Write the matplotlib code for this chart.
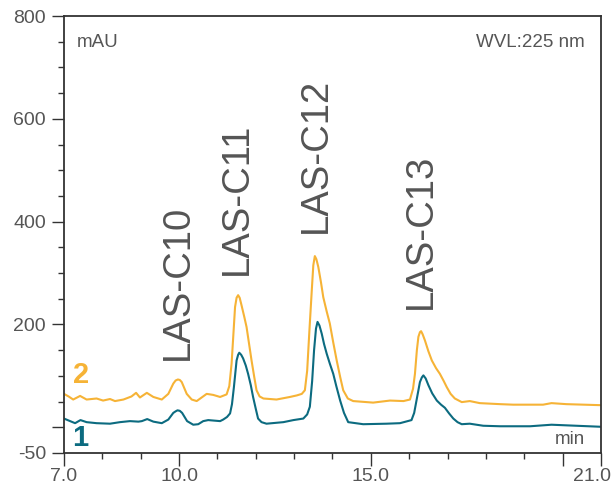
import matplotlib
matplotlib.use("Agg")
import matplotlib.pyplot as plt
import matplotlib.transforms as mtransforms
from matplotlib.ticker import MultipleLocator, FixedLocator

# trace 2 (orange)
t2 = [7.00, 7.12, 7.24, 7.42, 7.59, 7.85, 8.02, 8.20, 8.33, 8.55, 8.76, 8.88, 8.98,
      9.16, 9.33, 9.55, 9.72, 9.85, 9.91, 9.97, 10.02, 10.07, 10.20, 10.33, 10.46, 10.59,
      10.72, 10.89, 11.07, 11.24, 11.31, 11.37, 11.42, 11.46, 11.50, 11.54, 11.58, 11.63,
      11.70, 11.76, 11.83, 11.89, 11.96, 12.02, 12.10, 12.20, 12.54, 12.89, 13.07, 13.20,
      13.28, 13.34, 13.40, 13.46, 13.50, 13.54, 13.58, 13.63, 13.70, 13.76, 13.85,
      13.93, 14.02, 14.11, 14.20, 14.28, 14.40, 14.54, 15.06, 15.50, 15.85, 16.02,
      16.10, 16.15, 16.20, 16.24, 16.28, 16.31, 16.35, 16.41, 16.50, 16.59, 16.70,
      16.80, 16.90, 16.98, 17.08, 17.19, 17.37, 17.58, 17.84, 18.37, 18.71, 19.49,
      19.71, 20.10, 21.00]
v2 = [65, 60, 54, 61, 54, 56, 52, 55, 51, 54, 60, 67, 58,
      67, 59, 54, 65, 85, 91, 93, 92, 88, 65, 54, 51, 58,
      65, 63, 59, 64, 80, 124, 185, 234, 252, 257, 252, 237,
      215, 195, 160, 130, 98, 72, 60, 56, 54, 59, 62, 65,
      72, 110, 190, 266, 315, 333, 327, 312, 282, 253, 225,
      202, 165, 130, 98, 72, 56, 51, 48, 52, 51, 54,
      75, 104, 150, 176, 185, 187, 181, 169, 148, 130, 115,
      104, 90, 78, 65, 56, 49, 51, 47, 45, 44, 44,
      47, 45, 43]

# trace 1 (teal)
t1 = [7.00, 7.16, 7.29, 7.43, 7.59, 7.85, 8.20, 8.46, 8.72, 8.94, 9.03, 9.17,
      9.33, 9.55, 9.72, 9.85, 9.91, 9.96, 10.02, 10.08, 10.21, 10.37, 10.50, 10.63,
      10.76, 11.07, 11.15, 11.25, 11.33, 11.38, 11.43, 11.50, 11.54, 11.57, 11.62,
      11.67, 11.74, 11.80, 11.87, 11.93, 12.00, 12.06, 12.15, 12.28, 12.72, 12.98,
      13.24, 13.34, 13.41, 13.47, 13.52, 13.57, 13.61, 13.66, 13.72, 13.78, 13.85,
      13.93, 14.02, 14.10, 14.20, 14.30, 14.41, 14.80, 15.41, 15.76, 16.06, 16.13,
      16.19, 16.24, 16.28, 16.33, 16.37, 16.43, 16.50, 16.60, 16.72, 16.83, 16.93,
      17.04, 17.15, 17.26, 17.37, 17.58, 17.93, 18.37, 19.15, 19.71, 21.00]
v1 = [17, 12, 8, 14, 10, 8, 7, 10, 12, 11, 12, 16,
      11, 8, 15, 28, 31, 33, 32, 28, 12, 5, 6, 12,
      14, 12, 15, 20, 27, 45, 78, 130, 141, 145, 141,
      134, 120, 104, 82, 59, 36, 17, 10, 7, 10, 14,
      17, 25, 40, 90, 150, 192, 205, 198, 182, 162, 143,
      124, 104, 80, 52, 28, 10, 6, 7, 8, 14, 28,
      52, 72, 88, 97, 101, 95, 82, 66, 52, 44, 38,
      27, 17, 10, 6, 7, 3, 2, 2, 5, 1]

peak_names = ["LAS-C10", "LAS-C11", "LAS-C12", "LAS-C13"]
peak_label_t = [9.97, 11.50, 13.57, 16.30]
peak_label_v = [130, 296, 377, 231]

x_major = [7, 10, 15, 20, 21]
x_labels = ["7.0", "10.0", "15.0", "", "21.0"]
y_major = [-50, 0, 200, 400, 600, 800]
y_labels = ["-50", "", "200", "400", "600", "800"]

orange = "#F6B336"
teal = "#0C6B80"
grey = "#555555"

plt.rcParams["font.family"] = ["Liberation Sans", "DejaVu Sans"]

fig = plt.figure(figsize=(6.14, 4.91), dpi=100)
ax = fig.add_axes([0.1042, 0.0774, 0.8746, 0.89])

ax.plot(t2, v2, color=orange, lw=1.5, solid_joinstyle="round")
ax.plot(t1, v1, color=teal, lw=1.5, solid_joinstyle="round")

for name, tx, ty in zip(peak_names, peak_label_t, peak_label_v):
    ax.text(tx, ty, name, rotation=90, ha="center", va="bottom",
            fontsize=27.5, color=grey)

ax.text(0.024, 0.94, "mAU", transform=ax.transAxes, fontsize=13.5,
        color=grey, va="center", ha="left")
ax.text(0.97, 0.94, "WVL:225 nm", transform=ax.transAxes, fontsize=13.5,
        color=grey, va="center", ha="right")
ax.text(0.97, 0.012, "min", transform=ax.transAxes, fontsize=13.5,
        color=grey, va="bottom", ha="right")
ax.text(0.032, 0.178, "2", transform=ax.transAxes, fontsize=21,
        fontweight="bold", color=orange, va="center", ha="center")
ax.text(0.030, 0.034, "1", transform=ax.transAxes, fontsize=21,
        fontweight="bold", color=teal, va="center", ha="center")

ax.set_xlim(7, 21)
ax.set_ylim(-50, 800)

ax.xaxis.set_major_locator(FixedLocator(x_major))
ax.set_xticklabels(x_labels)
ax.yaxis.set_major_locator(FixedLocator(y_major))
ax.set_yticklabels(y_labels)
ax.xaxis.set_minor_locator(MultipleLocator(1))
ax.yaxis.set_minor_locator(MultipleLocator(50))

ax.tick_params(which="major", length=9, width=1.0, color="#333333",
               labelsize=14, labelcolor=grey)
ax.tick_params(which="minor", length=4.5, width=1.0, color="#333333")
ax.tick_params(axis="x", which="major", pad=1.5)
ax.tick_params(axis="y", which="major", pad=4)

# last x label sits a little to the left of its tick so it stays inside
shift = mtransforms.ScaledTranslation(-9 / 100, 0, fig.dpi_scale_trans)
last = ax.get_xticklabels()[-1]
last.set_transform(last.get_transform() + shift)

for s in ax.spines.values():
    s.set_color("#333333")
    s.set_linewidth(1.3)

fig.savefig("out.png", dpi=100)
